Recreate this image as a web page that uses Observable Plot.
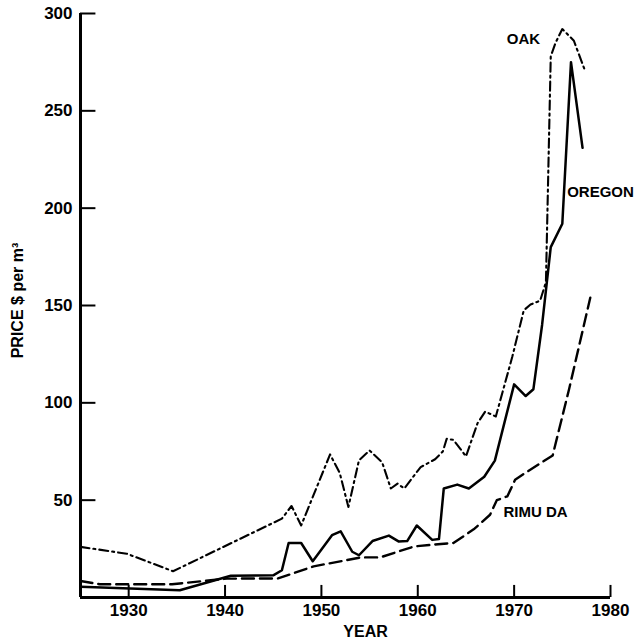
<!DOCTYPE html>
<html>
<head>
<meta charset="utf-8">
<script src="https://cdn.jsdelivr.net/npm/d3@7"></script>
<script src="https://cdn.jsdelivr.net/npm/@observablehq/plot@0.6"></script>
<style>
  html, body { margin: 0; padding: 0; background: white; }
</style>
</head>
<body>
<div id="chart"></div>
<script>
// Tick labels
const xTicks = [1930, 1940, 1950, 1960, 1970, 1980];
const yTicks = [50, 100, 150, 200, 250, 300];

// OAK (dash-dot)
const oakYears  = [1925, 1929.8, 1934.6, 1945.9, 1946.9, 1947.9, 1950.9, 1951.9, 1952.8, 1953.9, 1955.0, 1956.3, 1957.2, 1957.9, 1958.6, 1960.3, 1961.8, 1962.6, 1963.0, 1963.7, 1965.0, 1966.2, 1967.0, 1968.1, 1969.8, 1971.0, 1971.7, 1972.7, 1973.3, 1973.8, 1974.3, 1975.0, 1976.2, 1977.4];
const oakPrices = [26, 22.5, 13.5, 40.5, 47, 37, 73.5, 64, 46.5, 70.5, 75.5, 69.5, 56, 58.5, 56, 67, 71, 75, 81.5, 81, 72.5, 89.5, 95.5, 93, 123.5, 147.5, 150.5, 152.5, 162, 278, 285, 292, 286, 270];

// OREGON (solid)
const oregonYears  = [1925, 1935.3, 1940.6, 1945.0, 1945.9, 1946.6, 1947.9, 1949.1, 1951.1, 1952.0, 1953.2, 1953.9, 1955.3, 1957.0, 1958.0, 1958.9, 1959.9, 1961.5, 1962.2, 1962.7, 1964.1, 1965.3, 1966.9, 1968.0, 1970.0, 1971.2, 1972.0, 1972.9, 1973.8, 1975.0, 1975.9, 1977.1];
const oregonPrices = [5.5, 3.7, 11.2, 11.4, 14, 28, 28, 18.6, 32, 34, 23.5, 21.7, 29, 31.8, 28.8, 29, 37, 29.6, 30, 56, 58, 56, 62, 70.3, 109.5, 103.5, 107, 140, 180, 192, 275, 231];

// RIMU DA (dashed)
const rimuYears  = [1925, 1927, 1934.5, 1940.2, 1945.5, 1949.2, 1954.1, 1956.1, 1959.6, 1962.4, 1963.7, 1965.8, 1967.5, 1968.2, 1969.3, 1970.1, 1971.0, 1974.0, 1975.7, 1977.9];
const rimuPrices = [8.5, 6.8, 6.8, 9.7, 9.8, 16, 20.6, 20.6, 26.2, 27.5, 28, 35, 42.5, 50, 52, 60.5, 63.5, 73, 107, 154];

// Series labels (placed in data space)
const labelNames  = ["OAK", "OREGON", "RIMU DA"];
const labelYears  = [1972.7, 1975.5, 1968.9];
const labelPrices = [286.6, 208.3, 43.7];

const toRows = (years, prices) => years.map((year, i) => ({year, price: prices[i]}));
const oak = toRows(oakYears, oakPrices);
const oregon = toRows(oregonYears, oregonPrices);
const rimu = toRows(rimuYears, rimuPrices);
const labels = labelNames.map((name, i) => ({name, year: labelYears[i], price: labelPrices[i]}));

const font = "'Liberation Sans', Arial, Helvetica, sans-serif";

const chart = Plot.plot({
  width: 637,
  height: 644,
  marginLeft: 80,
  marginRight: 27,
  marginTop: 13,
  marginBottom: 47,
  x: {domain: [1925, 1980]},
  y: {domain: [0, 300]},
  style: {fontFamily: font, fontWeight: "bold", background: "white", color: "black"},
  marks: [
    Plot.axisX(xTicks, {tickSize: 0, tickPadding: 6, fontSize: 17, tickFormat: "d", label: null}),
    Plot.axisY(yTicks, {tickSize: 0, tickPadding: 8, fontSize: 17, label: null}),
    Plot.ruleX(xTicks, {y1: 0, y2: 6.2, strokeWidth: 2}),
    Plot.ruleY(yTicks, {x1: 1925, x2: 1926.6, strokeWidth: 2}),
    Plot.line(rimu, {x: "year", y: "price", stroke: "black", strokeWidth: 2.4, strokeDasharray: "12,6"}),
    Plot.line(oak, {x: "year", y: "price", stroke: "black", strokeWidth: 2.1, strokeDasharray: "9,4,2,4"}),
    Plot.line(oregon, {x: "year", y: "price", stroke: "black", strokeWidth: 2.5}),
    Plot.ruleX([1925], {strokeWidth: 3}),
    Plot.ruleY([0], {strokeWidth: 3}),
    Plot.text(labels.filter(d => d.name === "OAK"), {x: "year", y: "price", text: "name", textAnchor: "end", fontSize: 15}),
    Plot.text(labels.filter(d => d.name !== "OAK"), {x: "year", y: "price", text: "name", textAnchor: "start", fontSize: 15}),
    Plot.text(["PRICE $ per m³"], {frameAnchor: "left", rotate: -90, dx: -63, dy: -5, textAnchor: "middle", fontSize: 16}),
    Plot.text(["YEAR"], {frameAnchor: "bottom", dx: 20, dy: 39, textAnchor: "middle", fontSize: 16})
  ]
});
document.getElementById("chart").appendChild(chart);
</script>
</body>
</html>
